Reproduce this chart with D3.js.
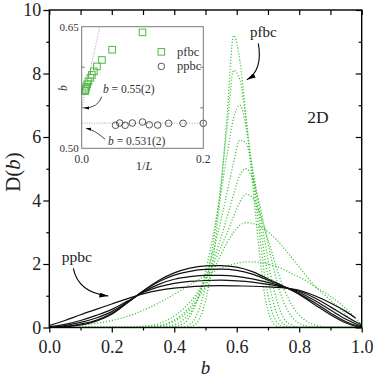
<!DOCTYPE html>
<html><head><meta charset="utf-8">
<script src="https://cdn.jsdelivr.net/npm/d3@7"></script>
<style>
body{margin:0;background:#fff;}
svg{display:block;font-family:'Liberation Serif';}
</style></head><body>
<svg id="c" width="382" height="382"></svg>
<script>
// ---------- main panel data ----------
const bGridPF = [0,0.05,0.10,0.15,0.20,0.25,0.30,0.35,0.39,0.43,0.45,0.47,0.49,0.51,0.53,0.55,0.57,0.59,0.61,0.63,0.65,0.67,0.69,0.71,0.73,0.75,0.78,0.81,0.85,0.89,0.93,0.97,1.00];
const pfbc1 = [.02,.04,.07,.13,.22,.35,.54,.77,.99,1.22,1.35,1.46,1.58,1.68,1.78,1.87,1.94,2.0,2.04,2.065,2.07,2.05,2.02,1.97,1.91,1.83,1.68,1.54,1.29,1.05,.76,.4,.08];
const pfbc2 = [0,0,0,0,0,0,.01,.05,.15,.38,.57,.82,1.13,1.50,1.90,2.31,2.69,3.0,3.22,3.30,3.28,3.21,3.09,2.93,2.74,2.51,2.15,1.78,1.30,.95,.6,.2,.02];
const pfbc3 = [0,0,0,0,0,.01,.04,.12,.3,.6,.8,1.05,1.35,1.7,2.1,2.55,3.0,3.5,3.95,4.2,4.1,3.7,3.1,2.45,1.8,1.25,.65,.3,.08,.01,0,0,0];
const pfbc4 = [0,0,0,0,0,0,.01,.05,.18,.45,.65,.95,1.3,1.75,2.25,2.85,3.5,4.2,4.8,5.0,4.7,4.0,3.1,2.2,1.4,.8,.3,.08,.01,0,0,0,0];
const pfbc5 = [0,0,0,0,0,0,0,.01,.06,.25,.45,.8,1.3,1.9,2.6,3.4,4.3,5.2,5.9,5.8,5.0,3.9,2.7,1.6,.8,.3,.06,0,0,0,0,0,0];
const pfbc6 = [0,0,0,0,0,0,0,0,.02,.12,.35,.75,1.35,2.2,3.2,4.3,5.5,6.6,7.0,6.3,5.0,3.6,2.2,1.1,.4,.1,.01,0,0,0,0,0,0];
const pfbc7 = [0,0,0,0,0,0,0,0,0,.02,.1,.35,.9,1.8,3.0,4.6,6.4,8.1,7.8,6.5,4.9,3.2,1.6,.6,.15,.02,0,0,0,0,0,0,0];
const pfbc8 = [0,0,0,0,0,0,0,0,0,0,.02,.12,.5,1.3,2.6,4.4,6.8,9.2,8.4,6.6,4.6,2.6,1.0,.25,.03,0,0,0,0,0,0,0,0];

const bGridPP = [0,.05,.1,.15,.2,.25,.3,.35,.4,.45,.5,.55,.6,.65,.7,.75,.8,.85,.9,.95,.98,1.0];
const ppbc1 = [.06,.22,.40,.57,.74,.91,1.06,1.17,1.24,1.28,1.31,1.32,1.31,1.30,1.28,1.25,1.17,1.0,.77,.5,.3,null];
const ppbc2 = [.02,.1,.22,.38,.57,.83,1.1,1.28,1.39,1.45,1.48,1.49,1.47,1.43,1.36,1.27,1.14,.93,.65,.35,.18,.09];
const ppbc3 = [.01,.06,.16,.3,.5,.8,1.12,1.36,1.52,1.6,1.64,1.64,1.61,1.53,1.42,1.28,1.1,.85,.55,.26,.12,.05];
const ppbc4 = [0,.03,.11,.23,.45,.78,1.14,1.44,1.65,1.77,1.83,1.84,1.8,1.68,1.49,1.29,1.06,.78,.46,.18,.07,.02];
const ppbc5 = [0,.02,.08,.2,.42,.78,1.15,1.48,1.72,1.87,1.94,1.95,1.9,1.76,1.53,1.3,1.04,.72,.4,.14,.04,.01];

const xTicks = [0,0.2,0.4,0.6,0.8,1.0];
const xMinor = [0.1,0.3,0.5,0.7,0.9];
const yTicks = [0,2,4,6,8,10];
const yMinor = [1,3,5,7,9];

// ---------- inset data ----------
const invL_pf = [0.1,0.05,0.0333,0.025,0.02,0.0167,0.0143,0.0111,0.0091,0.0077,0.0067,0.0059,0.0053];
const bstar_pf = [0.643,0.6216,0.609,0.601,0.595,0.5905,0.587,0.5825,0.579,0.576,0.5735,0.5715,0.5705];
const invL_pp = [0.0556,0.0625,0.0714,0.0833,0.1,0.1111,0.125,0.1429,0.1667,0.2];
const bstar_pp = [0.5284,0.5312,0.5284,0.5312,0.5324,0.529,0.5287,0.5308,0.5308,0.5308];
const fitPF = [[0,0.55],[0.03,0.65]];
const fitPP = [[0,0.531],[0.2,0.531]];
const insetXTicks = [0.0,0.2];
const insetYTicks = [0.50,0.65];

// ---------- drawing ----------
const svg = d3.select("#c");
const FONT = "Liberation Serif";
const green = "#3dc23a", markGreen = "#52b844";

const x = d3.scaleLinear().domain([0,1]).range([49.3,361.7]);
const y = d3.scaleLinear().domain([0,10]).range([327.5,10]);

const defs = svg.append("defs");
defs.append("clipPath").attr("id","plotclip").append("rect")
  .attr("x",x(0)).attr("y",y(10)).attr("width",x(1)-x(0)).attr("height",y(0)-y(10));
function marker(id,w,h){
  defs.append("marker").attr("id",id).attr("viewBox",`0 0 ${w} ${h}`)
    .attr("refX",w).attr("refY",h/2).attr("markerWidth",w).attr("markerHeight",h)
    .attr("markerUnits","userSpaceOnUse").attr("orient","auto")
    .append("path").attr("d",`M0,0L${w},${h/2}L0,${h}Z`).attr("fill","#000");
}
marker("arrBig",9,5);
marker("arrSmall",5,3.2);

const plot = svg.append("g").attr("clip-path","url(#plotclip)");

const lineMain = (grid) => d3.line()
  .defined(d => d != null)
  .x((d,i)=>x(grid[i])).y(d=>y(d)).curve(d3.curveMonotoneX);

[pfbc1,pfbc2,pfbc3,pfbc4,pfbc5,pfbc6,pfbc7,pfbc8].forEach(s=>{
  plot.append("path").attr("d",lineMain(bGridPF)(s))
    .attr("fill","none").attr("stroke",green).attr("stroke-width",1.3)
    .attr("stroke-dasharray","1.1,1.9");
});
[ppbc1,ppbc2,ppbc3,ppbc4,ppbc5].forEach(s=>{
  plot.append("path").attr("d",lineMain(bGridPP)(s))
    .attr("fill","none").attr("stroke","#111").attr("stroke-width",1.2);
});

// axes
function styleAxis(g,size){
  g.attr("font-family",FONT);
  g.select(".domain").remove();
  g.selectAll("text").attr("font-family",FONT).attr("font-size",size).attr("fill","#222");
  g.selectAll("line").attr("stroke","#000").attr("stroke-width",1.2);
}
svg.append("g").attr("transform",`translate(0,${y(0)})`)
  .call(d3.axisBottom(x).tickValues(xTicks).tickFormat(d3.format(".1f")).tickSize(5).tickPadding(8))
  .call(g=>styleAxis(g,18));
svg.append("g").attr("transform",`translate(0,${y(0)})`)
  .call(d3.axisBottom(x).tickValues(xMinor).tickFormat("").tickSize(3)).call(g=>styleAxis(g,10));
svg.append("g").attr("transform",`translate(0,${y(10)})`)
  .call(d3.axisTop(x).tickValues(xTicks.concat(xMinor)).tickFormat("").tickSize(-5)).call(g=>styleAxis(g,10));
svg.append("g").attr("transform",`translate(${x(0)},0)`)
  .call(d3.axisLeft(y).tickValues(yTicks).tickFormat(d3.format("d")).tickSize(6).tickPadding(2))
  .call(g=>styleAxis(g,18));
svg.append("g").attr("transform",`translate(${x(0)},0)`)
  .call(d3.axisLeft(y).tickValues(yMinor).tickFormat("").tickSize(3)).call(g=>styleAxis(g,10));
svg.append("g").attr("transform",`translate(${x(1)},0)`)
  .call(d3.axisRight(y).tickValues(yTicks).tickFormat("").tickSize(-6)).call(g=>styleAxis(g,10));
svg.append("g").attr("transform",`translate(${x(1)},0)`)
  .call(d3.axisRight(y).tickValues(yMinor).tickFormat("").tickSize(-3)).call(g=>styleAxis(g,10));

svg.append("rect").attr("x",x(0)).attr("y",y(10)).attr("width",x(1)-x(0)).attr("height",y(0)-y(10))
  .attr("fill","none").attr("stroke","#000").attr("stroke-width",1.4);

// axis titles
svg.append("text").attr("x",x(0.5)).attr("y",374).attr("text-anchor","middle")
  .attr("font-size",19).attr("font-style","italic").attr("fill","#222").text("b");
const yl = svg.append("text").attr("transform","translate(20,172) rotate(-90)")
  .attr("text-anchor","middle").attr("font-size",21).attr("fill","#222");
yl.append("tspan").text("D(");
yl.append("tspan").attr("font-style","italic").text("b");
yl.append("tspan").text(")");

// annotations main
svg.append("text").attr("x",x(0.685)).attr("y",y(9.14)).attr("text-anchor","middle")
  .attr("font-size",15).attr("fill","#222").text("pfbc");
svg.append("path").attr("d",`M${x(0.669)},${y(8.95)} Q${x(0.684)},${y(8.1)} ${x(0.632)},${y(7.8)}`)
  .attr("fill","none").attr("stroke","#000").attr("stroke-width",1.1).attr("marker-end","url(#arrBig)");
svg.append("text").attr("x",x(0.088)).attr("y",y(2.07)).attr("text-anchor","middle")
  .attr("font-size",15.5).attr("fill","#222").text("ppbc");
svg.append("path").attr("d",`M${x(0.077)},${y(1.86)} Q${x(0.092)},${y(1.1)} ${x(0.189)},${y(0.99)}`)
  .attr("fill","none").attr("stroke","#000").attr("stroke-width",1.1).attr("marker-end","url(#arrBig)");
svg.append("text").attr("x",x(0.86)).attr("y",y(6.44)).attr("text-anchor","middle")
  .attr("font-size",17.5).attr("fill","#222").text("2D");

// ---------- inset ----------
const ix = d3.scaleLinear().domain([0,0.2]).range([81.7,203.3]);
const iy = d3.scaleLinear().domain([0.5,0.65]).range([148.3,26.7]);
defs.append("clipPath").attr("id","insclip").append("rect")
  .attr("x",ix(0)).attr("y",iy(0.65)).attr("width",ix(0.2)-ix(0)).attr("height",iy(0.5)-iy(0.65));
const ins = svg.append("g");
ins.append("rect").attr("x",ix(0)).attr("y",iy(0.65)).attr("width",ix(0.2)-ix(0)).attr("height",iy(0.5)-iy(0.65))
  .attr("fill","#fff").attr("stroke","none");
const il = d3.line().x(d=>ix(d[0])).y(d=>iy(d[1]));
ins.append("path").attr("d",il(fitPF)).attr("clip-path","url(#insclip)")
  .attr("stroke","#999").attr("stroke-width",0.9).attr("stroke-dasharray","1,1.5").attr("fill","none");
ins.append("path").attr("d",il(fitPP))
  .attr("stroke","#999").attr("stroke-width",0.9).attr("stroke-dasharray","1,1.5").attr("fill","none");
ins.selectAll("rect.sq").data(invL_pf).enter().append("rect").attr("class","sq")
  .attr("x",(d)=>ix(d)-3.3).attr("y",(d,i)=>iy(bstar_pf[i])-3.3).attr("width",6.6).attr("height",6.6)
  .attr("fill","none").attr("stroke",markGreen).attr("stroke-width",1);
ins.selectAll("circle.ci").data(invL_pp).enter().append("circle").attr("class","ci")
  .attr("cx",d=>ix(d)).attr("cy",(d,i)=>iy(bstar_pp[i])).attr("r",3.3)
  .attr("fill","none").attr("stroke","#444").attr("stroke-width",0.9);
ins.append("rect").attr("x",ix(0)).attr("y",iy(0.65)).attr("width",ix(0.2)-ix(0)).attr("height",iy(0.5)-iy(0.65))
  .attr("fill","none").attr("stroke","#777").attr("stroke-width",1);
// inset ticks
[0.55,0.60].forEach(v=>{
  ins.append("line").attr("x1",ix(0)).attr("x2",ix(0)+3).attr("y1",iy(v)).attr("y2",iy(v)).attr("stroke","#777");
  ins.append("line").attr("x1",ix(0.2)).attr("x2",ix(0.2)-3).attr("y1",iy(v)).attr("y2",iy(v)).attr("stroke","#777");
});
insetYTicks.forEach(v=>{
  ins.append("text").attr("x",ix(0)-3).attr("y",iy(v)+3.8).attr("text-anchor","end")
    .attr("font-size",11).attr("fill","#333").text(v.toFixed(2));
});
insetXTicks.forEach(v=>{
  ins.append("text").attr("x",ix(v)).attr("y",iy(0.5)+14.5).attr("text-anchor","middle")
    .attr("font-size",11.5).attr("fill","#333").text(v.toFixed(1));
});
const il1 = ins.append("text").attr("x",144).attr("y",170).attr("text-anchor","middle").attr("font-size",12.5).attr("fill","#333");
il1.append("tspan").text("1/");
il1.append("tspan").attr("font-style","italic").text("L");
ins.append("text").attr("transform","translate(67,88) rotate(-90)").attr("text-anchor","middle")
  .attr("font-size",11.5).attr("font-style","italic").attr("fill","#333").text("b");
// legend
ins.append("rect").attr("x",ix(0.131)-3.3).attr("y",iy(0.619)-3.3).attr("width",6.6).attr("height",6.6)
  .attr("fill","none").attr("stroke",markGreen);
ins.append("circle").attr("cx",ix(0.131)).attr("cy",iy(0.601)).attr("r",3.3).attr("fill","none").attr("stroke","#444").attr("stroke-width",0.9);
ins.append("text").attr("x",177).attr("y",iy(0.619)+4).attr("font-size",12.5).attr("fill","#333").text("pfbc");
ins.append("text").attr("x",177).attr("y",iy(0.601)+4).attr("font-size",12.5).attr("fill","#333").text("ppbc");
// inset annotations
function annot(xv,yv,val){
  const t = ins.append("text").attr("x",ix(xv)).attr("y",iy(yv)).attr("font-size",11.5).attr("fill","#333");
  t.append("tspan").attr("font-style","italic").text("b");
  t.append("tspan").text(" = "+val);
}
annot(0.035,0.568,"0.55(2)");
annot(0.0433,0.504,"0.531(2)");
ins.append("path").attr("d",`M${ix(0.0329)},${iy(0.5637)} Q${ix(0.0268)},${iy(0.5497)} ${ix(0.0038)},${iy(0.5497)}`)
  .attr("fill","none").attr("stroke","#333").attr("stroke-width",0.9).attr("marker-end","url(#arrSmall)");
ins.append("path").attr("d",`M${ix(0.0385)},${iy(0.511)} Q${ix(0.0219)},${iy(0.5226)} ${ix(0.0071)},${iy(0.5247)}`)
  .attr("fill","none").attr("stroke","#333").attr("stroke-width",0.9).attr("marker-end","url(#arrSmall)");
</script>
</body></html>
